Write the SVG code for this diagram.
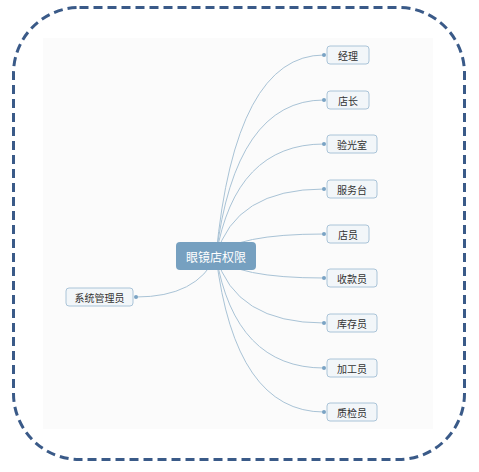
<svg xmlns="http://www.w3.org/2000/svg" width="479" height="472" viewBox="0 0 479 472">
<style>
.n rect{fill:#f2f6f9;stroke:#aac4d8;stroke-width:1}
.n text{font-family:"Noto Sans CJK SC","Noto Sans",sans-serif;font-size:10px;fill:#333;text-anchor:middle;dominant-baseline:central}
.c path{fill:none;stroke:#a9c3d6;stroke-width:1}
.c circle{fill:#7aa3c4}
</style>
<rect x="0" y="0" width="479" height="472" fill="#ffffff"/>
<rect x="43" y="38" width="390" height="391" fill="#fbfbfb"/>
<rect x="13.5" y="7.5" width="451" height="452" rx="66" ry="66" fill="none" stroke="#3a5a88" stroke-width="3" stroke-dasharray="9,5"/>
<g class="c" id="connectors">
<path d="M216,256 Q235,55 324,55"/>
<path d="M216,256 Q235,100 324,100"/>
<path d="M216,256 Q235,144 324,144"/>
<path d="M216,256 Q235,189 324,189"/>
<path d="M216,256 Q235,234 324,234"/>
<path d="M216,256 Q235,278 324,278"/>
<path d="M216,256 Q235,323 324,323"/>
<path d="M216,256 Q235,368 324,368"/>
<path d="M216,256 Q235,412 324,412"/>
<path d="M216,256 Q197,297 136,297"/>
<circle cx="324" cy="55" r="2"/>
<circle cx="324" cy="100" r="2"/>
<circle cx="324" cy="144" r="2"/>
<circle cx="324" cy="189" r="2"/>
<circle cx="324" cy="234" r="2"/>
<circle cx="324" cy="278" r="2"/>
<circle cx="324" cy="323" r="2"/>
<circle cx="324" cy="368" r="2"/>
<circle cx="324" cy="412" r="2"/>
<circle cx="136" cy="297" r="2"/>
</g>
<g id="center">
<rect x="176" y="242" width="80" height="28" rx="4" fill="#76a0c0"/>
<text x="216" y="256" font-family="Noto Sans CJK SC, Noto Sans, sans-serif" font-size="12" fill="#ffffff" text-anchor="middle" dominant-baseline="central">眼镜店权限</text>
</g>
<g class="n" id="n1"><rect x="327" y="46" width="42" height="18" rx="3"/><text x="348" y="55">经理</text></g>
<g class="n" id="n2"><rect x="327" y="91" width="42" height="18" rx="3"/><text x="348" y="100">店长</text></g>
<g class="n" id="n3"><rect x="327" y="135" width="50" height="18" rx="3"/><text x="352" y="144">验光室</text></g>
<g class="n" id="n4"><rect x="327" y="180" width="50" height="18" rx="3"/><text x="352" y="189">服务台</text></g>
<g class="n" id="n5"><rect x="327" y="225" width="42" height="18" rx="3"/><text x="348" y="234">店员</text></g>
<g class="n" id="n6"><rect x="327" y="269" width="50" height="18" rx="3"/><text x="352" y="278">收款员</text></g>
<g class="n" id="n7"><rect x="327" y="314" width="50" height="18" rx="3"/><text x="352" y="323">库存员</text></g>
<g class="n" id="n8"><rect x="327" y="359" width="50" height="18" rx="3"/><text x="352" y="368">加工员</text></g>
<g class="n" id="n9"><rect x="327" y="403" width="50" height="18" rx="3"/><text x="352" y="412">质检员</text></g>
<g class="n" id="n10"><rect x="66" y="288" width="67" height="18" rx="3"/><text x="99.5" y="297">系统管理员</text></g>
</svg>
